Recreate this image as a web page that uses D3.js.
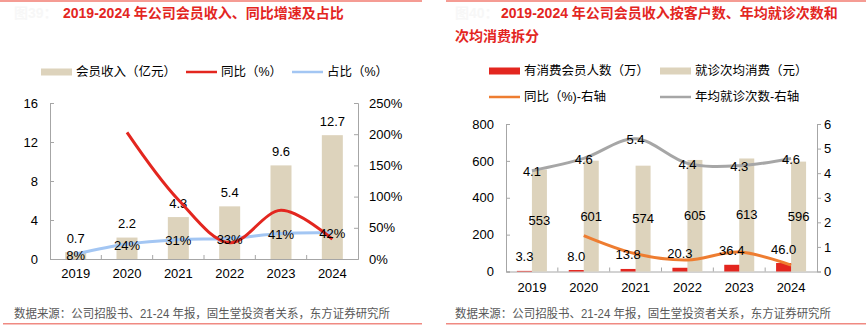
<!DOCTYPE html>
<html>
<head>
<meta charset="utf-8">
<script src="https://cdn.jsdelivr.net/npm/d3@7"></script>
<style>
  body { margin: 0; background: #fff; }
  svg { display: block; font-family: "Liberation Sans", Arial, "Noto Sans CJK SC", sans-serif; }
</style>
</head>
<body>
<script>
// left chart data
var years = ['2019', '2020', '2021', '2022', '2023', '2024'];
var memberRevenue = [0.7, 2.2, 4.3, 5.4, 9.6, 12.7];      // 亿元
var revenueYoy = [null, 203, 95, 26, 78, 32];               // %
var revenueShare = [8, 24, 31, 33, 41, 42];                 // %
var leftTicks = [0, 4, 8, 12, 16];
var rightTicksPct = [0, 50, 100, 150, 200, 250];

// right chart data
var payingMembers = [3.3, 8.0, 13.8, 20.3, 36.4, 46.0];     // 万
var spendPerVisit = [553, 601, 574, 605, 613, 596];         // 元
var membersYoy = [null, 1.46, 0.72, 0.47, 0.79, 0.26];      // right axis
var visitsPerYear = [4.1, 4.6, 5.4, 4.4, 4.3, 4.6];         // right axis
var leftTicks2 = [0, 200, 400, 600, 800];
var rightTicks2 = [0, 1, 2, 3, 4, 5, 6];

var width = 866, height = 327;
var red = '#e3261f', beige = '#ddd3bc', blue = '#a3c6f3', orange = '#ee7d31', gray = '#a6a6a6', axisColor = '#a6a6a6';

var svg = d3.select('body').append('svg')
  .attr('width', width)
  .attr('height', height);

// frame decorations
svg.append('rect').attr('x', 0).attr('y', 0).attr('width', 422).attr('height', 2).attr('fill', '#f59c94');
svg.append('rect').attr('x', 446).attr('y', 0).attr('width', 420).attr('height', 2).attr('fill', '#f59c94');
svg.append('rect').attr('x', 3).attr('y', 323).attr('width', 419).attr('height', 1.5).attr('fill', '#f08a82');
svg.append('rect').attr('x', 446).attr('y', 323).attr('width', 420).attr('height', 1.5).attr('fill', '#f08a82');

function txt(x, y, s, opts) {
  opts = opts || {};
  return svg.append('text')
    .attr('x', x).attr('y', y)
    .attr('font-size', opts.size || 13)
    .attr('font-weight', opts.weight || 'normal')
    .attr('fill', opts.fill || '#000')
    .attr('text-anchor', opts.anchor || 'start')
    .attr('dominant-baseline', 'central')
    .text(s);
}

// titles
txt(14, 13, '图39：', {size: 14, fill: '#f7f7f7', weight: 'bold'});
txt(63, 13, '2019-2024 年公司会员收入、同比增速及占比', {size: 14, fill: red, weight: 'bold'});
txt(455, 13, '图40：', {size: 14, fill: '#f7f7f7', weight: 'bold'});
txt(501, 13, '2019-2024 年公司会员收入按客户数、年均就诊次数和', {size: 14, fill: red, weight: 'bold'});
txt(455, 36, '次均消费拆分', {size: 14, fill: red, weight: 'bold'});

// sources
var src = '数据来源：公司招股书、21-24 年报，固生堂投资者关系，东方证券研究所';
txt(14, 314, src, {size: 12, fill: '#595959'}).attr('textLength', 376).attr('lengthAdjust', 'spacingAndGlyphs');
txt(455, 314, src, {size: 12, fill: '#595959'}).attr('textLength', 376).attr('lengthAdjust', 'spacingAndGlyphs');

// legends
function legendRect(x, y, color, label) {
  svg.append('rect').attr('x', x).attr('y', y - 3.5).attr('width', 31).attr('height', 7).attr('fill', color);
  txt(x + 35, y, label, {size: 12.5});
}
function legendLine(x, y, color, label) {
  svg.append('line').attr('x1', x).attr('x2', x + 31).attr('y1', y).attr('y2', y)
    .attr('stroke', color).attr('stroke-width', 2.5);
  txt(x + 35, y, label, {size: 12.5});
}
legendRect(41, 72, beige, '会员收入（亿元）');
legendLine(186, 72, red, '同比（%）');
legendLine(292, 72, blue, '占比（%）');

legendRect(489, 71, red, '有消费会员人数（万）');
legendRect(660, 71, beige, '就诊次均消费（元）');
legendLine(489, 97, orange, '同比（%)-右轴');
legendLine(660, 97, gray, '年均就诊次数-右轴');

function styleAxis(g) {
  g.select('.domain').attr('stroke', axisColor);
  g.selectAll('.tick line').attr('stroke', axisColor);
  g.selectAll('.tick text').attr('font-size', 13).attr('fill', '#000')
    .attr('font-family', '"Liberation Sans", Arial, sans-serif');
}

// ---------------- left chart ----------------
var x1 = d3.scaleBand().domain(years).range([50, 358]);
var y1 = d3.scaleLinear().domain([0, 16]).range([259, 103]);
var y1r = d3.scaleLinear().domain([0, 250]).range([259, 103]);

var g1 = svg.append('g');

g1.append('g').attr('transform', 'translate(50,0)')
  .call(d3.axisLeft(y1).tickValues(leftTicks).tickSize(-4).tickPadding(12))
  .call(styleAxis);
g1.append('g').attr('transform', 'translate(358,0)')
  .call(d3.axisRight(y1r).tickValues(rightTicksPct).tickSize(-4).tickPadding(11).tickFormat(function(d) { return d + '%'; }))
  .call(styleAxis);
g1.append('g').attr('transform', 'translate(0,259)')
  .call(d3.axisBottom(x1).tickSize(0).tickPadding(10))
  .call(styleAxis);
// category separator ticks
g1.selectAll('.sep').data(years.slice(1)).enter().append('line')
  .attr('x1', function(d) { return x1(d); }).attr('x2', function(d) { return x1(d); })
  .attr('y1', 259).attr('y2', 255).attr('stroke', axisColor);

var bw1 = 21;
g1.selectAll('.bar').data(memberRevenue).enter().append('rect')
  .attr('x', function(d, i) { return x1(years[i]) + x1.bandwidth() / 2 - bw1 / 2; })
  .attr('y', function(d) { return y1(d); })
  .attr('width', bw1)
  .attr('height', function(d) { return y1(0) - y1(d); })
  .attr('fill', beige);

g1.selectAll('.barlab').data(memberRevenue).enter().append('text')
  .attr('x', function(d, i) { return x1(years[i]) + x1.bandwidth() / 2; })
  .attr('y', function(d) { return y1(d) - 14; })
  .attr('text-anchor', 'middle').attr('dominant-baseline', 'central')
  .attr('font-size', 13)
  .text(function(d) { return d.toFixed(1); });

var line1 = d3.line()
  .defined(function(d) { return d[1] != null; })
  .x(function(d) { return x1(d[0]) + x1.bandwidth() / 2; })
  .y(function(d) { return y1r(d[1]); })
  .curve(d3.curveCatmullRom.alpha(0.5));

g1.append('path')
  .datum(years.map(function(y, i) { return [y, revenueShare[i]]; }))
  .attr('d', line1).attr('fill', 'none').attr('stroke', blue).attr('stroke-width', 3);
g1.append('path')
  .datum(years.map(function(y, i) { return [y, revenueYoy[i]]; }).filter(function(d) { return d[1] != null; }))
  .attr('d', line1).attr('fill', 'none').attr('stroke', red).attr('stroke-width', 3);

g1.selectAll('.sharelab').data(revenueShare).enter().append('text')
  .attr('x', function(d, i) { return x1(years[i]) + x1.bandwidth() / 2; })
  .attr('y', function(d) { return y1r(d) + 1; })
  .attr('text-anchor', 'middle').attr('dominant-baseline', 'central')
  .attr('font-size', 13)
  .text(function(d) { return d + '%'; });

// ---------------- right chart ----------------
var x2 = d3.scaleBand().domain(years).range([506, 817]);
var y2 = d3.scaleLinear().domain([0, 800]).range([271.5, 124]);
var y2r = d3.scaleLinear().domain([0, 6]).range([271.5, 124]);

var g2 = svg.append('g');
g2.append('g').attr('transform', 'translate(506,0)')
  .call(d3.axisLeft(y2).tickValues(leftTicks2).tickSize(-4).tickPadding(12))
  .call(styleAxis);
g2.append('g').attr('transform', 'translate(817,0)')
  .call(d3.axisRight(y2r).tickValues(rightTicks2).tickSize(4).tickPadding(3).tickFormat(d3.format('d')))
  .call(styleAxis);
g2.append('g').attr('transform', 'translate(0,271.5)')
  .call(d3.axisBottom(x2).tickSize(0).tickPadding(11))
  .call(styleAxis);
g2.selectAll('.sep').data(years.slice(1)).enter().append('line')
  .attr('x1', function(d) { return x2(d); }).attr('x2', function(d) { return x2(d); })
  .attr('y1', 271.5).attr('y2', 267.5).attr('stroke', axisColor);

var bw2 = 15;
function cx2(i) { return x2(years[i]) + x2.bandwidth() / 2; }

g2.selectAll('.bar2b').data(spendPerVisit).enter().append('rect')
  .attr('x', function(d, i) { return cx2(i); })
  .attr('y', function(d) { return y2(d); })
  .attr('width', bw2)
  .attr('height', function(d) { return y2(0) - y2(d); })
  .attr('fill', beige);
g2.selectAll('.bar2r').data(payingMembers).enter().append('rect')
  .attr('x', function(d, i) { return cx2(i) - bw2; })
  .attr('y', function(d) { return y2(d); })
  .attr('width', bw2)
  .attr('height', function(d) { return y2(0) - y2(d); })
  .attr('fill', red);

var line2 = d3.line()
  .x(function(d) { return cx2(d[0]); })
  .y(function(d) { return y2r(d[1]); })
  .curve(d3.curveCatmullRom.alpha(0.5));

g2.append('path')
  .datum(membersYoy.map(function(v, i) { return [i, v]; }).filter(function(d) { return d[1] != null; }))
  .attr('d', line2).attr('fill', 'none').attr('stroke', orange).attr('stroke-width', 3);
g2.append('path')
  .datum(visitsPerYear.map(function(v, i) { return [i, v]; }))
  .attr('d', line2).attr('fill', 'none').attr('stroke', gray).attr('stroke-width', 3);

g2.selectAll('.lab2b').data(spendPerVisit).enter().append('text')
  .attr('x', function(d, i) { return cx2(i) + bw2 / 2; })
  .attr('y', function(d) { return (y2(d) + y2(0)) / 2; })
  .attr('text-anchor', 'middle').attr('dominant-baseline', 'central')
  .attr('font-size', 13)
  .text(function(d) { return d; });
g2.selectAll('.lab2r').data(payingMembers).enter().append('text')
  .attr('x', function(d, i) { return cx2(i) - bw2 / 2; })
  .attr('y', function(d) { return y2(d) - 14; })
  .attr('text-anchor', 'middle').attr('dominant-baseline', 'central')
  .attr('font-size', 13)
  .text(function(d) { return d.toFixed(1); });
g2.selectAll('.lab2g').data(visitsPerYear).enter().append('text')
  .attr('x', function(d, i) { return cx2(i); })
  .attr('y', function(d) { return y2r(d) + 1; })
  .attr('text-anchor', 'middle').attr('dominant-baseline', 'central')
  .attr('font-size', 13)
  .text(function(d) { return d.toFixed(1); });
</script>
</body>
</html>
